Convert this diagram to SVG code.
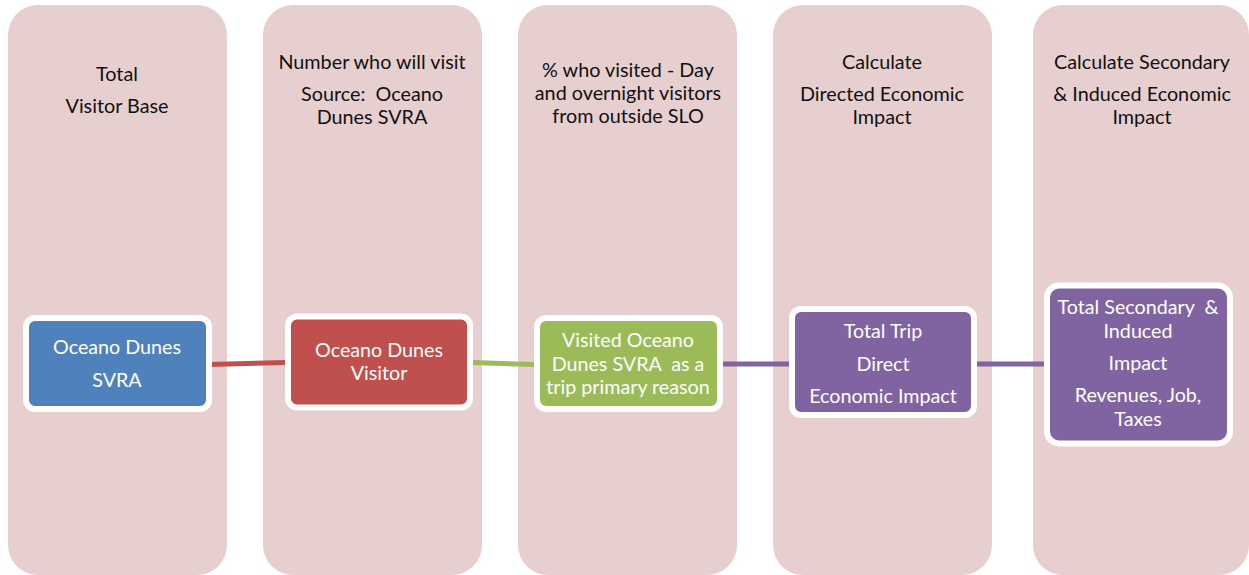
<svg xmlns="http://www.w3.org/2000/svg" width="1249" height="575" viewBox="0 0 1249 575">
  <style>
    .col { fill: #E7CFD0; }
    .hdr { font-family: Lato, "Liberation Sans", sans-serif; font-size: 19.8px; fill: #111; text-anchor: middle; }
    .box { stroke: #FFFFFF; stroke-width: 6; }
    .lbl { font-family: Lato, "Liberation Sans", sans-serif; font-size: 19.7px; fill: #FFFFFF; text-anchor: middle; }
    .link { fill: none; stroke-width: 5; }
  </style>

  <!-- stage columns -->
  <g id="stage-columns">
    <rect class="col" x="8" y="5" width="219" height="570" rx="30"/>
    <rect class="col" x="263" y="5" width="219" height="570" rx="30"/>
    <rect class="col" x="518" y="5" width="219" height="570" rx="30"/>
    <rect class="col" x="773" y="5" width="219" height="570" rx="30"/>
    <rect class="col" x="1033" y="5" width="216" height="570" rx="30"/>
  </g>

  <!-- stage headings -->
  <g id="headers">
    <text class="hdr" x="117" y="81">Total</text>
    <text class="hdr" x="117" y="113">Visitor Base</text>

    <text class="hdr" x="372" y="69">Number who will visit</text>
    <text class="hdr" x="372" y="101" xml:space="preserve">Source:  Oceano</text>
    <text class="hdr" x="372" y="124">Dunes SVRA</text>

    <text class="hdr" x="628" y="77">% who visited - Day</text>
    <text class="hdr" x="628" y="100">and overnight visitors</text>
    <text class="hdr" x="628" y="123">from outside SLO</text>

    <text class="hdr" x="882" y="69">Calculate</text>
    <text class="hdr" x="882" y="101">Directed Economic</text>
    <text class="hdr" x="882" y="124">Impact</text>

    <text class="hdr" x="1142" y="69">Calculate Secondary</text>
    <text class="hdr" x="1142" y="101">&amp; Induced Economic</text>
    <text class="hdr" x="1142" y="124">Impact</text>
  </g>

  <!-- connectors -->
  <g id="connectors">
    <path class="link" stroke="#C0504D" d="M209 364.5 L286 362.5"/>
    <path class="link" stroke="#9BBB59" d="M472 362.5 L535 364.5"/>
    <path class="link" stroke="#8064A2" d="M721 364 L790 364"/>
    <path class="link" stroke="#8064A2" d="M976 364 L1045 364"/>
  </g>

  <g id="node-svra">
    <rect class="box" x="26" y="318" width="183" height="91" rx="9" fill="#4F81BD"/>
    <text class="lbl" x="117" y="354">Oceano Dunes</text>
    <text class="lbl" x="117" y="387">SVRA</text>
  </g>

  <g id="node-visitor">
    <rect class="box" x="288" y="316.5" width="182" height="91" rx="9" fill="#C0504D"/>
    <text class="lbl" x="379" y="357">Oceano Dunes</text>
    <text class="lbl" x="379" y="380">Visitor</text>
  </g>

  <g id="node-primary">
    <rect class="box" x="537" y="318" width="183" height="91" rx="9" fill="#9BBB59"/>
    <text class="lbl" x="628" y="347">Visited Oceano</text>
    <text class="lbl" x="628" y="371" xml:space="preserve">Dunes SVRA  as a</text>
    <text class="lbl" x="628" y="394">trip primary reason</text>
  </g>

  <g id="node-direct">
    <rect class="box" x="792" y="309" width="182" height="106" rx="9" fill="#8064A2"/>
    <text class="lbl" x="883" y="338">Total Trip</text>
    <text class="lbl" x="883" y="371">Direct</text>
    <text class="lbl" x="883" y="403">Economic Impact</text>
  </g>

  <g id="node-secondary">
    <rect class="box" x="1047" y="285.5" width="183" height="158" rx="12" fill="#8064A2"/>
    <text class="lbl" x="1138" y="314" xml:space="preserve">Total Secondary  &amp;</text>
    <text class="lbl" x="1138" y="338">Induced</text>
    <text class="lbl" x="1138" y="370">Impact</text>
    <text class="lbl" x="1138" y="402">Revenues, Job,</text>
    <text class="lbl" x="1138" y="426">Taxes</text>
  </g>
</svg>
